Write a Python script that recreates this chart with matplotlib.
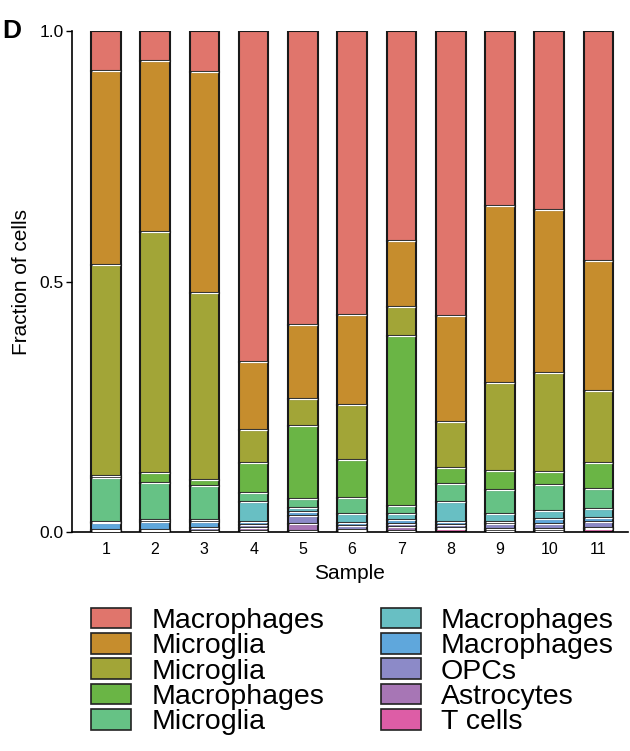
import numpy as np
import matplotlib
matplotlib.use("Agg")
import matplotlib.pyplot as plt
from matplotlib.patches import Patch

plt.rcParams['font.family'] = ['Liberation Sans', 'DejaVu Sans']

samples = [1, 2, 3, 4, 5, 6, 7, 8, 9, 10, 11]

# cluster labels, stacked from the top down (same order as the legend)
labels = ["Macrophages", "Microglia", "Microglia", "Macrophages", "Microglia",
          "Macrophages", "Macrophages", "OPCs", "Astrocytes", "T cells"]
colors = ["#E0756C", "#C68D2D", "#A2A537", "#6AB545", "#66C285",
          "#68BFC3", "#5FA7DC", "#8C8AC8", "#A776B5", "#DD5DA6"]

# fractions per sample, bottom-up stacking: pink .. red
t_cells     = [0.001, 0.001, 0.001, 0.002, 0.002, 0.002, 0.002, 0.006, 0.003, 0.002, 0.006]
astrocytes  = [0.001, 0.001, 0.002, 0.006, 0.014, 0.003, 0.008, 0.002, 0.004, 0.004, 0.002]
opcs        = [0.002, 0.002, 0.005, 0.006, 0.016, 0.007, 0.006, 0.006, 0.008, 0.010, 0.012]
macro_blue  = [0.014, 0.016, 0.012, 0.006, 0.008, 0.006, 0.008, 0.006, 0.005, 0.010, 0.008]
macro_teal  = [0.002, 0.004, 0.004, 0.040, 0.008, 0.018, 0.012, 0.040, 0.016, 0.016, 0.018]
micro_mint  = [0.088, 0.074, 0.068, 0.018, 0.018, 0.032, 0.016, 0.036, 0.048, 0.052, 0.040]
macro_green = [0.004, 0.020, 0.012, 0.060, 0.146, 0.076, 0.340, 0.032, 0.038, 0.026, 0.052]
micro_olive = [0.420, 0.480, 0.374, 0.066, 0.054, 0.110, 0.058, 0.092, 0.176, 0.198, 0.144]
micro_orange = [0.388, 0.342, 0.440, 0.136, 0.148, 0.180, 0.130, 0.212, 0.352, 0.324, 0.258]
macro_red   = [0.080, 0.060, 0.082, 0.660, 0.586, 0.566, 0.420, 0.568, 0.350, 0.358, 0.460]

stack = [macro_red, micro_orange, micro_olive, macro_green, micro_mint,
         macro_teal, macro_blue, opcs, astrocytes, t_cells]

fig = plt.figure(figsize=(6.3, 7.51), dpi=100)
ax = fig.add_axes([0.114, 0.2916, 0.883, 0.6671])

x = np.array(samples)
width = 0.6
bottom = np.zeros(len(samples))
# draw bottom-up so the legend order (top-down) matches
for vals, col in zip(stack[::-1], colors[::-1]):
    vals = np.array(vals)
    ax.bar(x, vals, width, bottom=bottom, color=col, edgecolor="#1a1a1a",
           linewidth=1.5, zorder=2)
    bottom = bottom + vals
    # white gap between segments
    for xi, b in zip(x, bottom):
        if b < 0.999:
            ax.hlines(b, xi - width / 2 + 0.02, xi + width / 2 - 0.02,
                      color="white", linewidth=0.9, zorder=3)

ax.set_xlim(0.31, 11.6)
ax.set_ylim(0, 1.0)
ax.set_xticks(samples)
ax.set_xticklabels([str(s) for s in samples], fontsize=11.5)
ax.set_yticks([0, 0.5, 1.0])
ax.set_yticklabels(["0.0", "0.5", "1.0"], fontsize=12.5)
ax.tick_params(axis="y", direction="out", length=4, width=1, color="black", pad=2)
ax.tick_params(axis="x", length=0, pad=7)
ax.spines["top"].set_visible(False)
ax.spines["right"].set_visible(False)
ax.spines["left"].set_linewidth(1.2)
ax.spines["bottom"].set_linewidth(1.2)
ax.spines["left"].set_bounds(0, 1.0)
ax.set_xlabel("Sample", fontsize=15, labelpad=5)
ax.set_ylabel("Fraction of cells", fontsize=15, labelpad=6)

fig.text(0.004, 0.975, "D", fontsize=19, fontweight="bold", va="top", ha="left")

handles = [Patch(facecolor=c, edgecolor="#222222", linewidth=1.2) for c in colors]
fig.legend(handles, labels, loc="upper left", bbox_to_anchor=(0.145, 0.191),
           ncol=2, frameon=False, fontsize=20.5, handlelength=1.4,
           handleheight=0.75, handletextpad=0.7, labelspacing=-0.035,
           columnspacing=2.0, borderpad=0, borderaxespad=0)

fig.savefig("out.png", dpi=100)
